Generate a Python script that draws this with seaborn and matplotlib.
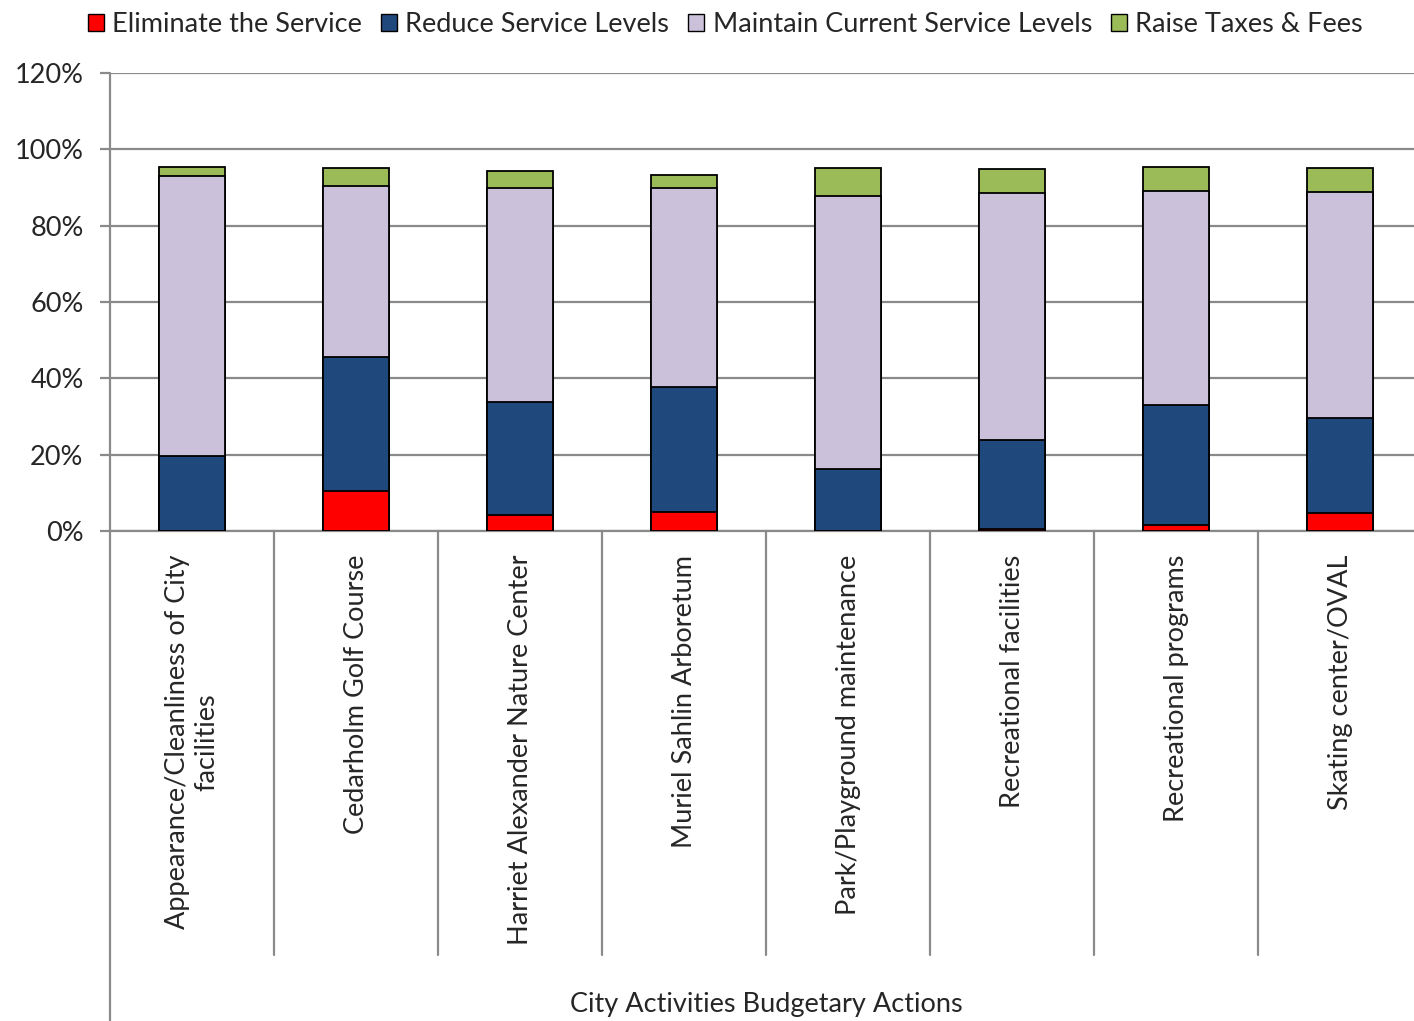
import numpy as np
import pandas as pd
import seaborn as sns
import matplotlib.pyplot as plt
import matplotlib.patches as mpatches
from matplotlib.ticker import FuncFormatter

# ── Data (percent of respondents) ─────────────────────────────
activities = [
    "Appearance/Cleanliness of City\nfacilities",
    "Cedarholm Golf Course",
    "Harriet Alexander Nature Center",
    "Muriel Sahlin Arboretum",
    "Park/Playground maintenance",
    "Recreational facilities",
    "Recreational programs",
    "Skating center/OVAL",
]
eliminate = [0.0, 10.5, 4.2, 5.0, 0.0, 0.6, 1.6, 4.7]
reduce    = [19.7, 35.2, 29.7, 32.8, 16.3, 23.3, 31.5, 25.0]
maintain  = [73.2, 44.8, 55.9, 52.2, 71.6, 64.6, 56.1, 59.0]
raise_tax = [2.6, 4.5, 4.4, 3.4, 7.1, 6.3, 6.3, 6.3]

series_names = ["Eliminate the Service", "Reduce Service Levels",
                "Maintain Current Service Levels", "Raise Taxes & Fees"]
colors = ["#FF0000", "#1F497D", "#CCC1DA", "#9BBB59"]

df = pd.DataFrame({
    "activity": activities,
    "Eliminate the Service": eliminate,
    "Reduce Service Levels": reduce,
    "Maintain Current Service Levels": maintain,
    "Raise Taxes & Fees": raise_tax,
})
cum = df[series_names].cumsum(axis=1)
cum["activity"] = df["activity"]

sns.set_style("white")
plt.rcParams["font.family"] = ["Lato", "DejaVu Sans"]

fig = plt.figure(figsize=(14.14, 10.21), dpi=100)
ax = fig.add_axes([0.0778, 0.4799, 0.928, 0.4486])

# stacked look: draw cumulative totals from the top layer down
for name, col in reversed(list(zip(series_names, colors))):
    sns.barplot(data=cum, x="activity", y=name, order=activities,
                color=col, width=0.4, edgecolor="black", linewidth=1.3,
                saturation=1, ax=ax, zorder=3)

ax.set_ylim(0, 120)
ax.set_xlim(-0.5, len(activities) - 0.5)
ax.set_yticks(np.arange(0, 121, 20))
ax.yaxis.set_major_formatter(FuncFormatter(lambda v, p: f"{v:.0f}%"))
ax.grid(axis="y", color="#8a8a8a", linewidth=1.6, zorder=0)
ax.set_axisbelow(True)

for s in ["top", "right", "left"]:
    ax.spines[s].set_visible(False)
ax.spines["bottom"].set_color("#8a8a8a")
ax.spines["bottom"].set_linewidth(1.6)

ax.tick_params(axis="y", labelsize=19.5, length=7, width=1.6,
               color="#8a8a8a", direction="out", pad=12, left=True)
ax.tick_params(axis="x", length=0, pad=17)
ax.set_xticks(range(len(activities)))
ax.set_xticklabels(activities, rotation=90, fontsize=19.5,
                   va="top", ha="center", multialignment="center")
ax.set_ylabel("")
ax.set_xlabel("")

# left axis line running down through the label area
ax.plot([0, 0], [1.0, -1.07], transform=ax.transAxes,
        color="#8a8a8a", linewidth=1.6, clip_on=False)

# category separators
sep_tr = ax.get_xaxis_transform()
for i in range(len(activities) - 1):
    ax.plot([i + 0.5, i + 0.5], [0, -0.926], transform=sep_tr,
            color="#8a8a8a", linewidth=1.6, clip_on=False)

fig.text(0.542, 0.016, "City Activities Budgetary Actions",
         ha="center", va="center", fontsize=19.5)

handles = [mpatches.Patch(facecolor=c, edgecolor="black", linewidth=1.0, label=n)
           for n, c in zip(series_names, colors)]
fig.legend(handles=handles, loc="upper center", bbox_to_anchor=(0.513, 1.012),
           ncol=4, frameon=False, fontsize=19.5, handlelength=0.6,
           handleheight=0.6, handletextpad=0.3, columnspacing=0.7)

plt.savefig("out.png", dpi=100)
